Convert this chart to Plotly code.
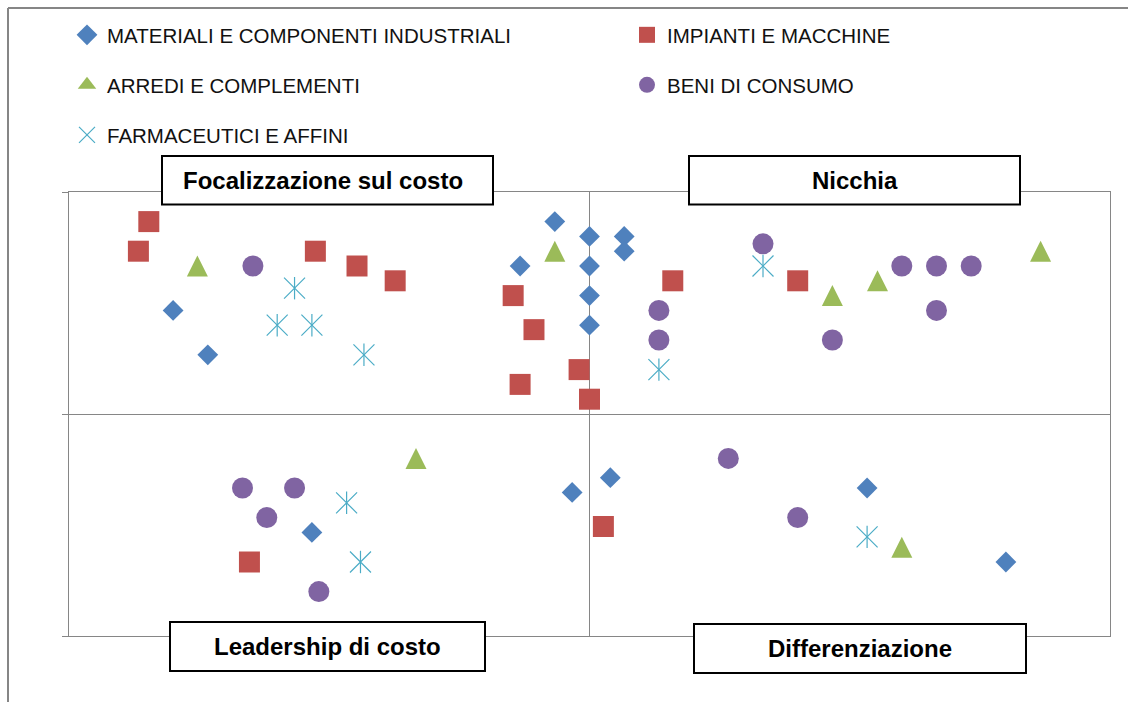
import plotly.graph_objects as go

# ---- data: positioning scores per sector (x: cost/differentiation, y: breadth) ----
mat_x = [-12, -11, -2, -1, 0, 0, 0, 0, 1, 1, -0.5, 0.6, -8, 8, 12]
mat_y = [7, 4, 10, 13, 12, 10, 8, 6, 12, 11, -5.3, -4.3, -8, -5, -10]

imp_x = [-12.7, -13, -7.9, -6.7, -5.6, -2.2, -1.6, -2, -0.3, 0, 2.4, 6, 0.4, -9.8]
imp_y = [13, 11, 11, 10, 9, 8, 5.7, 2, 3, 1, 9, 9, -7.6, -10]

arr_x = [-11.3, -1, 7, 8.3, 13, -5, 9]
arr_y = [10, 11, 8, 9, 11, -3, -9]

ben_x = [-9.7, 5, 2, 2, 7, 9, 10, 11, 10, 4, 6, -10, -8.5, -9.3, -7.8]
ben_y = [10, 11.5, 7, 5, 5, 10, 10, 10, 7, -3, -7, -5, -5, -7, -12]

far_x = [-8.5, -9, -8, -6.5, 5, 2, -7, -6.6, 8]
far_y = [8.5, 6, 6, 4, 10, 3, -6, -10, -8.3]

series_names = [
    "MATERIALI E COMPONENTI INDUSTRIALI",
    "IMPIANTI E MACCHINE",
    "ARREDI E COMPLEMENTI",
    "BENI DI CONSUMO",
    "FARMACEUTICI E AFFINI",
]

quadrant_labels = ["Focalizzazione sul costo", "Nicchia",
                   "Leadership di costo", "Differenziazione"]

BLUE, RED, GREEN, PURPLE, CYAN = "#4F81BD", "#C0504D", "#9BBB59", "#8064A2", "#4BACC6"
GRAY = "#868686"

# ---- page geometry ----
W, H = 1128, 702
ML, MR, MT, MB = 69, 18, 192, 66
PW, PH = W - ML - MR, H - MT - MB


def px_x(px):
    return (px - ML) / PW


def px_y(py):
    return (H - MB - py) / PH


fig = go.Figure()

fig.add_trace(go.Scatter(
    x=mat_x, y=mat_y, mode="markers", name=series_names[0], legend="legend",
    marker=dict(symbol="diamond", size=16, color=BLUE)))
fig.add_trace(go.Scatter(
    x=imp_x, y=imp_y, mode="markers", name=series_names[1], legend="legend2",
    marker=dict(symbol="square", size=21, color=RED)))
# upright triangle: a down-arrow turned over and shifted so it is centred on the point
fig.add_trace(go.Scatter(
    x=arr_x, y=arr_y, mode="markers", name=series_names[2], showlegend=False,
    legendgroup="arr",
    marker=dict(symbol="arrow-down", size=21, angle=180, standoff=10.5, color=GREEN)))
# legend key for the triangles (no points of its own)
fig.add_trace(go.Scatter(
    x=[None], y=[None], mode="markers", name=series_names[2], legend="legend3",
    legendgroup="arr", hoverinfo="skip",
    marker=dict(symbol="triangle-up", size=16, color=GREEN)))
fig.add_trace(go.Scatter(
    x=ben_x, y=ben_y, mode="markers", name=series_names[3], legend="legend4",
    marker=dict(symbol="circle", size=21, color=PURPLE)))
fig.add_trace(go.Scatter(
    x=far_x, y=far_y, mode="markers", name=series_names[4], legend="legend5",
    legendgroup="far",
    marker=dict(symbol="x-thin-open", size=21, color=CYAN,
                line=dict(width=1.2, color=CYAN))))
# vertical stroke of the star marker
fig.add_trace(go.Scatter(
    x=far_x, y=far_y, mode="markers", showlegend=False, hoverinfo="skip",
    legendgroup="far",
    marker=dict(symbol="line-ns-open", size=16, color=CYAN,
                line=dict(width=1.2, color=CYAN))))

legend_font = dict(family="Liberation Sans, Arial", size=20.5, color="#111111")


def legend_at(sym_x, row_y):
    # one legend box per entry; the symbol sits 20px right of the box edge
    return dict(orientation="v", x=px_x(sym_x - 20), xanchor="left",
                y=px_y(row_y), yanchor="middle",
                font=legend_font, bgcolor="rgba(0,0,0,0)", borderwidth=0)


axis_common = dict(range=[-15, 15], dtick=15, showgrid=True, gridcolor=GRAY,
                   gridwidth=1, zeroline=False, showline=True, linecolor=GRAY,
                   linewidth=1, mirror=True, showticklabels=False, fixedrange=True)

fig.update_layout(
    width=W, height=H,
    margin=dict(l=ML, r=MR, t=MT, b=MB, autoexpand=False),
    paper_bgcolor="white", plot_bgcolor="white",
    xaxis=dict(**axis_common, ticks=""),
    yaxis=dict(**axis_common, ticks="outside", ticklen=6, tickcolor=GRAY, tickwidth=1),
    legend=legend_at(87, 35),
    legend2=legend_at(647, 35),
    legend3=legend_at(87, 85),
    legend4=legend_at(647, 85),
    legend5=legend_at(87, 135),
)

# outer chart-area frame (top and left edges)
fig.add_shape(type="line", xref="paper", yref="paper",
              x0=px_x(8), x1=px_x(W), y0=px_y(8), y1=px_y(8),
              line=dict(color=GRAY, width=2))
fig.add_shape(type="line", xref="paper", yref="paper",
              x0=px_x(8), x1=px_x(8), y0=px_y(8), y1=px_y(H),
              line=dict(color=GRAY, width=2))

# quadrant title boxes
boxes = [
    (162, 493, 156, 204.5, 323),
    (689, 1020, 156, 204.5, 854.5),
    (170, 485, 622, 671, 327.5),
    (694, 1026, 624, 673, 860),
]
for label, (bx0, bx1, by0, by1, tx) in zip(quadrant_labels, boxes):
    fig.add_shape(type="rect", xref="paper", yref="paper",
                  x0=px_x(bx0), x1=px_x(bx1), y0=px_y(by0), y1=px_y(by1),
                  line=dict(color="#000000", width=2), fillcolor="white", layer="above")
    fig.add_annotation(text=label, xref="paper", yref="paper",
                       x=px_x(tx), y=px_y((by0 + by1) / 2),
                       xanchor="center", yanchor="middle", showarrow=False,
                       font=dict(family="Liberation Sans, Arial", size=24,
                                 color="#000000", weight="bold"))

fig.write_html("out.html")
